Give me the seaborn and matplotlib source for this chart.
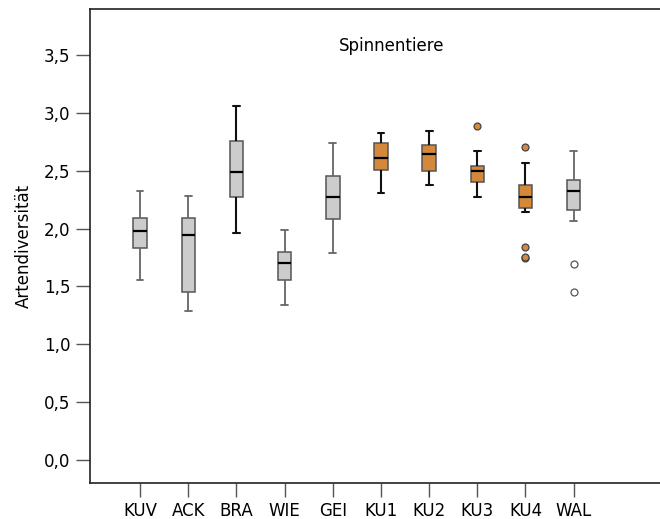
import matplotlib
matplotlib.use("Agg")
import matplotlib.pyplot as plt
import matplotlib.ticker as mticker
import seaborn as sns
import pandas as pd

categories = ["KUV", "ACK", "BRA", "WIE", "GEI", "KU1", "KU2", "KU3", "KU4", "WAL"]

# sample values per site (sorted), reproducing the box/whisker/outlier positions
KUV = [1.56, 1.835, 1.98, 2.09, 2.33]
ACK = [1.29, 1.45, 1.945, 2.09, 2.28]
BRA = [1.96, 2.27, 2.49, 2.76, 3.057]
WIE = [1.34, 1.556, 1.70, 1.80, 1.99]
GEI = [1.79, 2.083, 2.27, 2.455, 2.74]
KU1 = [2.31, 2.51, 2.61, 2.74, 2.83]
KU2 = [2.377, 2.50, 2.65, 2.72, 2.846]
KU3 = [2.276, 2.40, 2.40, 2.50, 2.50, 2.54, 2.54, 2.668, 2.887]
KU4 = [1.745, 1.755, 1.84, 2.14, 2.18, 2.18, 2.22, 2.25, 2.27,
       2.30, 2.33, 2.36, 2.38, 2.45, 2.50, 2.567, 2.71]
WAL = [1.45, 1.69, 2.07, 2.16, 2.16, 2.25, 2.33, 2.36, 2.40, 2.42, 2.50, 2.58, 2.67]

site_values = [KUV, ACK, BRA, WIE, GEI, KU1, KU2, KU3, KU4, WAL]
highlight = ["KU1", "KU2", "KU3", "KU4"]
dark_whiskers = ["BRA", "KU1", "KU2", "KU3", "KU4"]

GRAY = "#cccccc"
ORANGE = "#d3883c"

rows = []
for cat, vals in zip(categories, site_values):
    for v in vals:
        rows.append({"site": cat, "value": v})
df = pd.DataFrame(rows)

palette = {c: (ORANGE if c in highlight else GRAY) for c in categories}

sns.set_style("white")
plt.rcParams["font.family"] = ["DejaVu Sans"]
plt.rcParams["text.color"] = "black"
plt.rcParams["axes.labelcolor"] = "black"

fig = plt.figure(figsize=(6.6, 5.19), dpi=100)
ax = fig.add_axes([90 / 660, 1 - 483 / 519, 580 / 660, (483 - 9) / 519])

sns.boxplot(
    data=df, x="site", y="value", hue="site", order=categories,
    palette=palette, saturation=1, legend=False, width=0.28, ax=ax,
    linecolor="#555555", linewidth=1.1,
    medianprops=dict(color="black", linewidth=1.6),
    flierprops=dict(marker="o", markersize=5, markeredgecolor="#444444",
                    markeredgewidth=0.9),
)

for ln in ax.lines:
    xd = ln.get_xdata()
    if not len(xd):
        continue
    if ln.get_linestyle() in ("None", "none", ""):
        idx = int(round(float(xd[0])))
        cat = categories[idx]
        ln.set_markerfacecolor(ORANGE if cat in highlight else "white")
        if cat not in highlight:
            ln.set_markeredgecolor("#555555")
        continue
    if len(xd) == 2:
        idx = int(round(float(xd[0] + xd[1]) / 2))
        cat = categories[idx]
        span = abs(float(xd[1]) - float(xd[0]))
        is_median = span > 0.2
        if not is_median:
            if cat in dark_whiskers:
                ln.set_color("#111111")
                ln.set_linewidth(1.5)
            else:
                ln.set_color("#666666")
                ln.set_linewidth(1.3)

for patch in ax.patches:
    patch.set_edgecolor("#555555")

ax.set_xlim(-1.04, 11.0)
ax.set_ylim(-0.2, 3.9)
ax.set_yticks([0, 0.5, 1.0, 1.5, 2.0, 2.5, 3.0, 3.5])
ax.yaxis.set_major_formatter(mticker.FuncFormatter(lambda v, p: f"{v:.1f}".replace(".", ",")))

ax.set_xlabel("")
ax.set_ylabel("Artendiversität", fontsize=12, labelpad=8, color="black")
ax.tick_params(axis="both", which="major", direction="out", length=10,
               width=1, color="#555555", labelsize=12, pad=4, labelcolor="black")
ax.tick_params(axis="y", left=True)
ax.tick_params(axis="x", bottom=True)

for side in ["left", "bottom", "top", "right"]:
    ax.spines[side].set_visible(True)
    ax.spines[side].set_color("#222222")
    ax.spines[side].set_linewidth(1.2)

ax.text(5.23, 3.58, "Spinnentiere", ha="center", va="center", fontsize=12, color="black")

fig.savefig("out.png", dpi=100)
